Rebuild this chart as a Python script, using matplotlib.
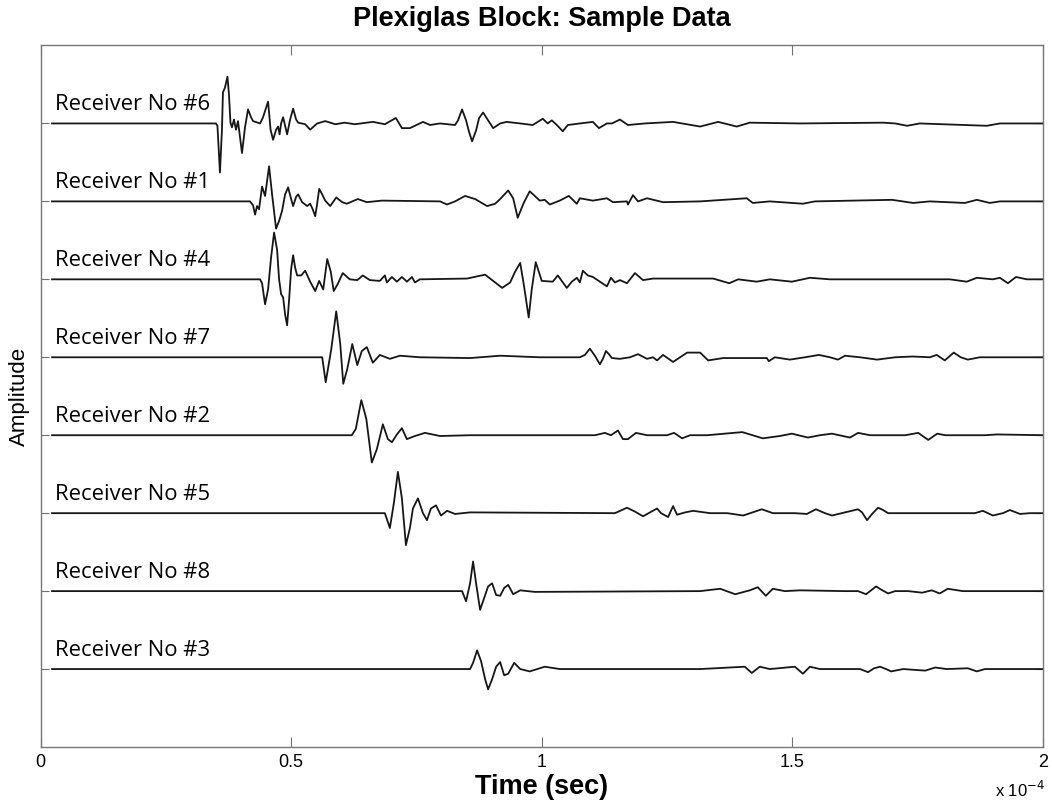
import matplotlib
matplotlib.use("Agg")
import matplotlib.pyplot as plt

# Time axis in units of 1e-4 s; amplitudes in units of trace spacing.
t_rx6 = [0.023, 0.350, 0.353, 0.358, 0.362, 0.364, 0.368, 0.373, 0.376, 0.379, 0.382, 0.386, 0.390, 0.394,
         0.402, 0.408, 0.414, 0.420, 0.424, 0.438, 0.444, 0.454, 0.459, 0.464, 0.470, 0.474, 0.477, 0.480,
         0.484, 0.492, 0.498, 0.504, 0.510, 0.514, 0.528, 0.538, 0.552, 0.568, 0.588, 0.607, 0.627, 0.663,
         0.687, 0.709, 0.721, 0.737, 0.763, 0.777, 0.797, 0.827, 0.833, 0.841, 0.849, 0.855, 0.861, 0.869,
         0.875, 0.883, 0.893, 0.903, 0.917, 0.930, 0.957, 0.982, 1.002, 1.012, 1.020, 1.030, 1.042, 1.052,
         1.076, 1.102, 1.114, 1.130, 1.140, 1.156, 1.172, 1.206, 1.262, 1.316, 1.352, 1.389, 1.415, 1.515,
         1.681, 1.705, 1.729, 1.754, 1.888, 1.914, 2.000]
a_rx6 = [0.0, 0.0, -0.03, -0.63, -0.08, 0.40, 0.46, 0.60, 0.37, 0.01, -0.05, 0.05, -0.08, 0.03,
         -0.38, -0.05, 0.18, 0.08, 0.03, 0.0, 0.08, 0.28, -0.08, -0.21, -0.08, -0.04, -0.14, 0.0,
         0.08, -0.14, 0.05, 0.19, 0.05, 0.01, -0.01, -0.08, 0.0, 0.03, -0.01, 0.01, -0.01, 0.02,
         -0.01, 0.07, -0.06, -0.06, 0.02, -0.02, 0.0, -0.02, 0.04, 0.18, 0.04, -0.11, -0.23, -0.09,
         0.07, 0.14, 0.04, -0.06, 0.0, 0.02, 0.0, -0.02, 0.06, 0.0, 0.04, -0.02, -0.10, -0.02,
         0.0, 0.02, -0.06, 0.0, 0.0, 0.05, -0.02, 0.0, 0.02, -0.04, 0.02, -0.04, 0.01, 0.0,
         0.01, 0.0, -0.03, 0.0, -0.03, 0.0, 0.0]

t_rx1 = [0.023, 0.418, 0.424, 0.428, 0.432, 0.436, 0.442, 0.448, 0.456, 0.462, 0.470, 0.476, 0.482, 0.488,
         0.494, 0.500, 0.504, 0.510, 0.514, 0.522, 0.532, 0.538, 0.543, 0.548, 0.552, 0.556, 0.562, 0.568,
         0.578, 0.590, 0.602, 0.611, 0.633, 0.651, 0.681, 0.797, 0.811, 0.827, 0.847, 0.867, 0.891, 0.907,
         0.917, 0.933, 0.943, 0.952, 0.964, 0.976, 0.986, 0.996, 1.006, 1.016, 1.036, 1.054, 1.070, 1.076,
         1.102, 1.130, 1.142, 1.170, 1.172, 1.182, 1.192, 1.210, 1.242, 1.316, 1.409, 1.421, 1.455, 1.521,
         1.545, 1.699, 1.741, 1.774, 1.844, 1.868, 1.894, 1.914, 2.000]
a_rx1 = [0.0, 0.0, -0.05, -0.17, -0.06, -0.10, 0.19, 0.07, 0.45, 0.09, -0.35, -0.25, -0.12, 0.09,
         0.18, 0.03, -0.06, 0.06, 0.09, -0.01, -0.06, -0.03, -0.10, -0.19, -0.03, 0.16, 0.09, 0.01,
         -0.06, 0.05, -0.01, -0.03, 0.03, -0.01, 0.01, 0.0, -0.04, 0.0, 0.07, 0.03, -0.06, -0.03,
         0.03, 0.14, 0.04, -0.21, -0.02, 0.13, 0.07, 0.01, 0.02, -0.04, 0.01, 0.07, -0.03, 0.04,
         0.01, 0.04, -0.01, 0.0, -0.04, 0.08, 0.0, 0.04, -0.01, 0.0, 0.04, -0.02, 0.0, -0.03,
         0.0, 0.02, -0.02, 0.0, -0.02, 0.02, -0.02, 0.0, 0.0]

t_rx4 = [0.023, 0.438, 0.442, 0.448, 0.454, 0.460, 0.466, 0.472, 0.476, 0.480, 0.484, 0.488, 0.492, 0.496,
         0.500, 0.504, 0.508, 0.512, 0.520, 0.528, 0.538, 0.548, 0.556, 0.564, 0.572, 0.579, 0.585, 0.593,
         0.603, 0.617, 0.632, 0.643, 0.657, 0.677, 0.687, 0.691, 0.701, 0.711, 0.721, 0.731, 0.741, 0.747,
         0.757, 0.851, 0.887, 0.903, 0.921, 0.937, 0.947, 0.957, 0.964, 0.974, 0.980, 0.988, 0.994, 1.000,
         1.022, 1.032, 1.050, 1.060, 1.070, 1.076, 1.082, 1.092, 1.102, 1.116, 1.130, 1.138, 1.146, 1.156,
         1.170, 1.186, 1.202, 1.222, 1.342, 1.374, 1.392, 1.429, 1.455, 1.499, 1.535, 1.575, 1.814, 1.848,
         1.868, 1.900, 1.914, 1.930, 1.946, 1.968, 2.000]
a_rx4 = [0.0, 0.0, -0.05, -0.32, -0.13, 0.28, 0.60, 0.38, 0.0, -0.19, -0.23, -0.45, -0.59, -0.26,
         0.13, 0.31, 0.15, 0.05, 0.05, 0.11, -0.03, -0.15, -0.02, -0.13, 0.26, 0.10, -0.15, -0.06,
         0.08, 0.0, -0.01, 0.05, -0.01, -0.02, 0.05, -0.04, 0.03, -0.03, 0.03, -0.03, 0.03, -0.04,
         0.0, 0.01, 0.06, -0.02, -0.11, -0.04, 0.10, 0.21, -0.06, -0.49, -0.13, 0.22, 0.10, -0.02,
         -0.03, 0.05, -0.11, -0.03, 0.02, -0.04, 0.11, 0.05, 0.03, -0.03, -0.09, 0.02, -0.04, -0.01,
         -0.05, 0.08, -0.01, 0.01, 0.01, -0.05, 0.0, -0.03, 0.0, -0.03, 0.02, 0.0, 0.0, -0.03,
         0.02, 0.0, 0.02, -0.05, 0.03, 0.0, 0.0]

t_rx7 = [0.023, 0.562, 0.569, 0.580, 0.590, 0.598, 0.604, 0.612, 0.622, 0.632, 0.641, 0.651, 0.663, 0.677,
         0.697, 0.717, 0.757, 0.857, 0.917, 0.996, 1.076, 1.086, 1.096, 1.106, 1.116, 1.122, 1.128, 1.134,
         1.140, 1.156, 1.176, 1.192, 1.210, 1.222, 1.230, 1.242, 1.262, 1.276, 1.290, 1.316, 1.332, 1.362,
         1.449, 1.453, 1.465, 1.495, 1.525, 1.553, 1.575, 1.591, 1.605, 1.635, 1.669, 1.705, 1.740, 1.774,
         1.788, 1.804, 1.822, 1.836, 1.850, 1.874, 2.000]
a_rx7 = [0.0, 0.0, -0.32, 0.10, 0.59, 0.17, -0.34, -0.15, 0.17, -0.10, 0.08, 0.13, -0.07, 0.03,
         -0.02, 0.02, 0.0, -0.01, 0.02, 0.0, 0.0, 0.03, 0.11, 0.02, -0.09, -0.02, 0.08, 0.04,
         -0.01, -0.02, 0.0, 0.04, -0.02, 0.0, -0.04, 0.03, -0.06, 0.0, 0.06, 0.06, -0.04, -0.01,
         -0.01, -0.05, 0.0, -0.03, 0.0, 0.03, 0.0, -0.03, 0.02, 0.0, -0.03, 0.0, 0.01, 0.0,
         0.03, -0.04, 0.06, 0.0, -0.03, 0.0, 0.0]

t_rx2 = [0.023, 0.621, 0.629, 0.640, 0.650, 0.661, 0.671, 0.683, 0.693, 0.701, 0.711, 0.721, 0.731, 0.747,
         0.767, 0.797, 0.857, 1.106, 1.126, 1.138, 1.152, 1.162, 1.172, 1.188, 1.210, 1.250, 1.264, 1.280,
         1.296, 1.330, 1.400, 1.441, 1.475, 1.499, 1.531, 1.555, 1.579, 1.615, 1.631, 1.655, 1.725, 1.751,
         1.771, 1.789, 1.805, 1.884, 1.908, 2.000]
a_rx2 = [0.0, 0.0, 0.08, 0.45, 0.21, -0.35, -0.18, 0.14, -0.05, -0.09, 0.01, 0.09, -0.05, -0.01,
         0.03, -0.01, 0.0, 0.0, 0.03, 0.0, 0.06, -0.05, -0.05, 0.03, 0.0, 0.0, 0.03, -0.04,
         0.0, 0.0, 0.04, -0.04, -0.01, 0.02, -0.03, 0.0, 0.02, -0.03, 0.03, 0.0, 0.0, 0.03,
         -0.06, 0.02, 0.0, 0.0, 0.01, 0.0]

t_rx5 = [0.023, 0.687, 0.697, 0.705, 0.713, 0.721, 0.729, 0.737, 0.743, 0.753, 0.763, 0.771, 0.779, 0.789,
         0.799, 0.811, 0.827, 0.857, 1.146, 1.170, 1.186, 1.202, 1.216, 1.230, 1.238, 1.252, 1.262, 1.270,
         1.286, 1.302, 1.336, 1.370, 1.402, 1.439, 1.461, 1.505, 1.529, 1.547, 1.565, 1.579, 1.605, 1.631,
         1.639, 1.649, 1.659, 1.671, 1.681, 1.691, 1.864, 1.880, 1.900, 1.920, 1.934, 1.954, 1.974, 2.000]
a_rx5 = [0.0, 0.0, -0.19, 0.13, 0.53, 0.19, -0.41, -0.19, 0.06, 0.19, 0.0, -0.09, 0.06, 0.10,
         -0.03, 0.03, -0.01, 0.01, 0.0, 0.07, 0.02, -0.04, 0.01, 0.06, 0.0, -0.05, 0.09, -0.02,
         0.01, 0.03, 0.0, 0.0, -0.03, 0.05, 0.0, 0.0, -0.01, 0.05, 0.0, -0.03, 0.01, 0.05,
         0.01, -0.09, -0.01, 0.07, 0.04, 0.0, 0.0, 0.03, -0.03, 0.0, 0.04, -0.01, 0.0, 0.0]

t_rx8 = [0.023, 0.841, 0.849, 0.857, 0.863, 0.869, 0.877, 0.885, 0.893, 0.901, 0.909, 0.917, 0.925, 0.933,
         0.943, 0.957, 0.986, 1.316, 1.356, 1.386, 1.415, 1.431, 1.447, 1.461, 1.485, 1.515, 1.605, 1.631,
         1.647, 1.657, 1.667, 1.677, 1.691, 1.705, 1.731, 1.759, 1.778, 1.794, 1.810, 1.840, 2.000]
a_rx8 = [0.0, 0.0, -0.13, 0.10, 0.38, 0.10, -0.24, -0.09, 0.06, 0.10, -0.05, -0.06, 0.04, 0.08,
         -0.04, 0.01, -0.01, 0.0, 0.03, -0.04, 0.01, 0.05, -0.06, 0.03, 0.0, 0.01, 0.0, 0.0,
         -0.04, 0.01, 0.06, 0.02, -0.03, 0.0, 0.0, -0.02, 0.01, -0.03, 0.03, 0.0, 0.0]

t_rx3 = [0.023, 0.857, 0.863, 0.871, 0.879, 0.887, 0.893, 0.901, 0.909, 0.917, 0.925, 0.933, 0.945, 0.957,
         0.976, 1.006, 1.036, 1.316, 1.405, 1.419, 1.435, 1.455, 1.505, 1.521, 1.535, 1.555, 1.635, 1.651,
         1.663, 1.675, 1.687, 1.697, 1.721, 1.765, 1.785, 1.808, 1.850, 1.868, 1.884, 2.000]
a_rx3 = [0.0, 0.0, 0.08, 0.24, 0.10, -0.13, -0.26, -0.13, 0.03, 0.09, -0.08, -0.06, 0.08, 0.0,
         -0.03, 0.03, 0.0, 0.0, 0.03, -0.05, 0.03, 0.0, 0.03, -0.06, 0.03, 0.0, 0.0, -0.04,
         0.01, 0.03, 0.0, -0.03, 0.0, -0.02, 0.02, 0.0, 0.01, -0.03, 0.0, 0.0]

# Traces from top to bottom, with their vertical offsets
receivers = ["Receiver No #6", "Receiver No #1", "Receiver No #4", "Receiver No #7",
             "Receiver No #2", "Receiver No #5", "Receiver No #8", "Receiver No #3"]
offsets = [8, 7, 6, 5, 4, 3, 2, 1]
times = [t_rx6, t_rx1, t_rx4, t_rx7, t_rx2, t_rx5, t_rx8, t_rx3]
amps = [a_rx6, a_rx1, a_rx4, a_rx7, a_rx2, a_rx5, a_rx8, a_rx3]
xticks = [0, 0.5, 1, 1.5, 2]
xtick_labels = ["0", "0.5", "1", "1.5", "2"]

plt.rcParams["font.family"] = ["Liberation Sans", "DejaVu Sans"]

fig = plt.figure(figsize=(10.52, 8.01), dpi=100)
ax = fig.add_axes([40.5 / 1052, 1 - 747 / 801, (1043 - 40.5) / 1052, (747 - 45.5) / 801])

for name, off, t, a in zip(receivers, offsets, times, amps):
    ax.plot(t, [off + v for v in a], color="#161616", lw=1.3, solid_joinstyle="round")
    ax.text(0.029, off + 0.17, name, fontsize=15.8, family=["Open Sans", "DejaVu Sans"],
            ha="left", va="baseline", color="black")

ax.set_xlim(0, 2)
ax.set_ylim(0, 9)
ax.set_xticks(xticks)
ax.set_xticklabels(xtick_labels)
ax.set_yticks(offsets)
ax.set_yticklabels([])
ax.tick_params(axis="x", direction="in", length=7.5, width=0.8, color="#707070",
               top=True, labelsize=13, pad=5)
ax.tick_params(axis="y", direction="in", length=6, width=0.8, color="#707070", right=True)
for s in ax.spines.values():
    s.set_color("#777777")
    s.set_linewidth(1.0)

ax.set_title("Plexiglas Block: Sample Data", fontsize=19.5, fontweight="bold", pad=14)
ax.set_xlabel("Time (sec)", fontsize=19.5, fontweight="bold", labelpad=2)
ax.set_ylabel("Amplitude", fontsize=16, labelpad=4)
ax.text(1.002, (747 - 790) / 701.5, r"x 10$^{-4}$", transform=ax.transAxes,
        ha="right", va="center", fontsize=12)

fig.savefig("out.png", dpi=100)
